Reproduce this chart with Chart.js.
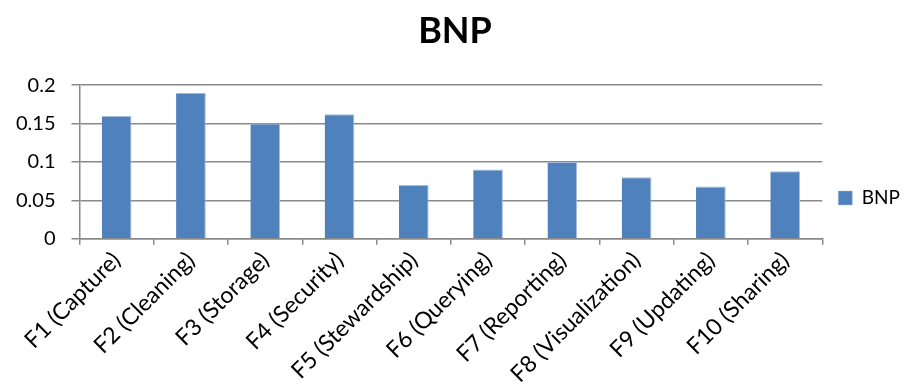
<!DOCTYPE html>
<html>
<head>
<meta charset="utf-8">
<script src="https://cdn.jsdelivr.net/npm/chart.js@4/dist/chart.umd.min.js"></script>
<style>
  html, body { margin: 0; padding: 0; background: #ffffff; }
  #wrap { width: 922px; height: 390px; }
</style>
</head>
<body>
<div id="wrap"><canvas id="c"></canvas></div>
<script>
// Categories and BNP weight per feature
const categories = [
  'F1 (Capture)', 'F2 (Cleaning)', 'F3 (Storage)', 'F4 (Security)', 'F5 (Stewardship)',
  'F6 (Querying)', 'F7 (Reporting)', 'F8 (Visualization)', 'F9 (Updating)', 'F10 (Sharing)'
];
const bnpValues = [0.16, 0.19, 0.15, 0.162, 0.07, 0.09, 0.1, 0.08, 0.068, 0.088];
const yTicks = [0, 0.05, 0.1, 0.15, 0.2];
const seriesName = 'BNP';

const FONT = 'Lato, "Open Sans", "Liberation Sans", sans-serif';
const GRID = '#8a8a8a';

new Chart(document.getElementById('c'), {
  type: 'bar',
  data: {
    labels: categories,
    datasets: [{
      label: seriesName,
      data: bnpValues,
      backgroundColor: '#4F81BD',
      borderColor: '#a7bedd',
      borderWidth: { top: 1, right: 1, left: 0, bottom: 0 },
      barPercentage: 0.4,
      categoryPercentage: 1.0
    }]
  },
  options: {
    responsive: true,
    maintainAspectRatio: false,
    animation: false,
    layout: { padding: { left: 0, right: 12, top: 6, bottom: 0 } },
    plugins: {
      title: {
        display: true,
        text: seriesName,
        color: '#000',
        font: { family: FONT, size: 36, weight: 'bold' },
        padding: { top: 4, bottom: 32 }
      },
      legend: {
        position: 'right',
        labels: {
          color: '#000',
          font: { family: FONT, size: 19 },
          boxWidth: 14,
          boxHeight: 14,
          padding: 16
        }
      },
      tooltip: { enabled: false }
    },
    scales: {
      x: {
        grid: {
          display: true,
          drawOnChartArea: false,
          drawTicks: true,
          tickLength: 6,
          color: GRID,
          lineWidth: 1.5,
          offset: true
        },
        border: { display: true, color: GRID, width: 1.5 },
        ticks: {
          color: '#000',
          font: { family: FONT, size: 23 },
          minRotation: 45,
          maxRotation: 45,
          autoSkip: false,
          padding: 2
        }
      },
      y: {
        min: 0,
        max: 0.2,
        afterBuildTicks: (axis) => { axis.ticks = yTicks.map(v => ({ value: v })); },
        grid: {
          color: GRID,
          lineWidth: 1.5,
          drawTicks: true,
          tickLength: 8
        },
        border: { display: true, color: GRID, width: 1.5 },
        ticks: {
          color: '#000',
          font: { family: FONT, size: 20 },
          padding: 16,
          callback: (v) => String(v)
        }
      }
    }
  }
});
</script>
</body>
</html>
